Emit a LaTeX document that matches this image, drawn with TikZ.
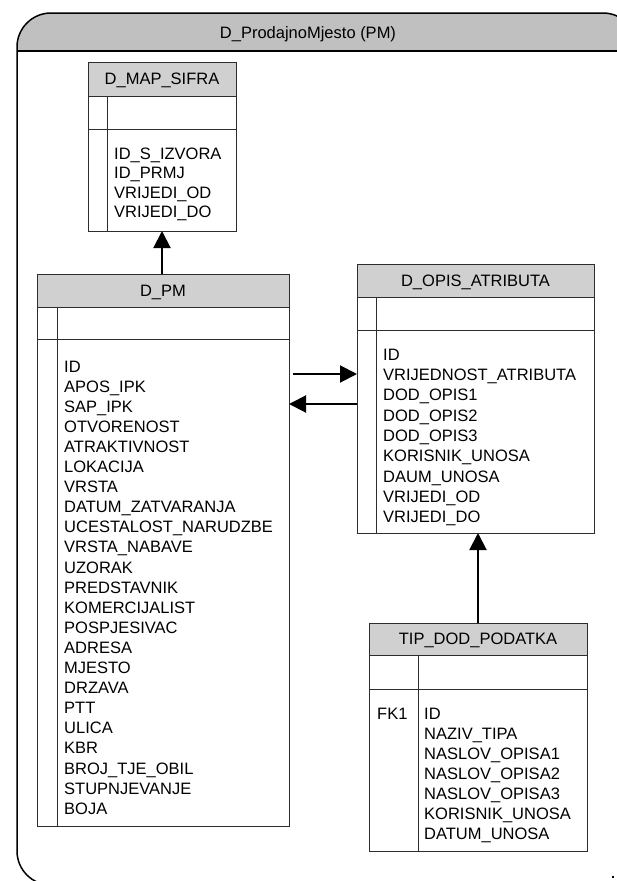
\documentclass[tikz,border=0pt]{standalone}
\usepackage{fontspec}
\setmainfont{Liberation Sans}
\usetikzlibrary{arrows.meta}
\definecolor{framehdr}{RGB}{192,192,192}
\definecolor{tblhdr}{RGB}{208,208,208}
\definecolor{tblline}{RGB}{45,45,45}
\newcommand\ertable[9]{%
  \fill[tblhdr] (#2,#3) rectangle (#4,#6);
  \node[tbl, minimum width={(#4-#2)*1pt}, minimum height={(#5-#3)*1pt}] (#1) at (#2,#3) {};
  \draw[tblline, line width=1pt] (#2,#6) -- (#4,#6) (#2,#7) -- (#4,#7) (#8,#6) -- (#8,#5);
  \node[ttl] (#1-t) at ({(#2+#4)/2},{(#3+#6)/2+5.9}) {#9};
}
\begin{document}
\begin{tikzpicture}[x=1pt,y=-1pt,
  tbl/.style={draw=tblline, line width=1pt, inner sep=0pt, outer sep=0pt, anchor=north west},
  fld/.style={anchor=base west, inner sep=0pt, font=\fontsize{16.5}{20}\selectfont},
  ttl/.style={anchor=base, inner sep=0pt, font=\fontsize{16.5}{20}\selectfont},
  rel/.style={line width=2pt, -{Triangle[width=17pt,length=17pt]}},
  framebox/.style={line width=1.5pt, draw=black, rounded corners=34pt}]
\useasboundingbox (0,0) rectangle (617,881);
\clip (0,0) rectangle (617,881);
% outer frame
\fill[white] (0,0) rectangle (617,881);
\begin{scope}
  \clip (0,0) rectangle (700,51);
  \fill[framehdr, rounded corners=34pt] (17,13) rectangle (637,885);
\end{scope}
\draw[line width=1.5pt] (17,51) -- (637,51);
\draw[framebox] (17,13) rectangle (637,885);
\node[ttl] (frame-t) at (308,38) {D\_ProdajnoMjesto (PM)};
% tables
\ertable{map}{88}{62}{236}{231}{96}{129}{107}{D\_MAP\_SIFRA}
\foreach \txt [count=\i] in {ID\_S\_IZVORA,ID\_PRMJ,VRIJEDI\_OD,VRIJEDI\_DO}
  \node[fld] (map-f\i) at (114,{159+(\i-1)*19.6}) {\txt};
\ertable{pm}{37}{274}{289}{826}{307}{339}{57}{D\_PM}
\foreach \txt [count=\i] in {ID,APOS\_IPK,SAP\_IPK,OTVORENOST,ATRAKTIVNOST,LOKACIJA,VRSTA,DATUM\_ZATVARANJA,UCESTALOST\_NARUDZBE,VRSTA\_NABAVE,UZORAK,PREDSTAVNIK,KOMERCIJALIST,POSPJESIVAC,ADRESA,MJESTO,DRZAVA,PTT,ULICA,KBR,BROJ\_TJE\_OBIL,STUPNJEVANJE,BOJA}
  \node[fld] (pm-f\i) at (64,{372+(\i-1)*20.1}) {\txt};
\ertable{opis}{357}{264}{594}{533}{297}{330}{376}{D\_OPIS\_ATRIBUTA}
\foreach \txt [count=\i] in {ID,VRIJEDNOST\_ATRIBUTA,DOD\_OPIS1,DOD\_OPIS2,DOD\_OPIS3,KORISNIK\_UNOSA,DAUM\_UNOSA,VRIJEDI\_OD,VRIJEDI\_DO}
  \node[fld] (opis-f\i) at (383,{360+(\i-1)*20.35}) {\txt};
\ertable{tip}{369}{623}{587}{851}{655}{689}{418}{TIP\_DOD\_PODATKA}
\node[fld] (tip-fk) at (377,719) {FK1};
\foreach \txt [count=\i] in {ID,NAZIV\_TIPA,NASLOV\_OPISA1,NASLOV\_OPISA2,NASLOV\_OPISA3,KORISNIK\_UNOSA,DATUM\_UNOSA}
  \node[fld] (tip-f\i) at (424,{719+(\i-1)*20}) {\txt};
% connectors
\coordinate (a1s) at (293,374);
\coordinate (y404) at (0,404);
\draw[rel] (a1s) -- (a1s -| opis.west);
\draw[rel] (opis.west |- y404) -- (pm.east |- y404);
\draw[rel] (map.south |- pm.north) -- (map.south);
\draw[rel] (tip.north) -- (tip.north |- opis.south);
% tiny mark
\fill (612,876) rectangle (614,878);
\end{tikzpicture}
\end{document}
